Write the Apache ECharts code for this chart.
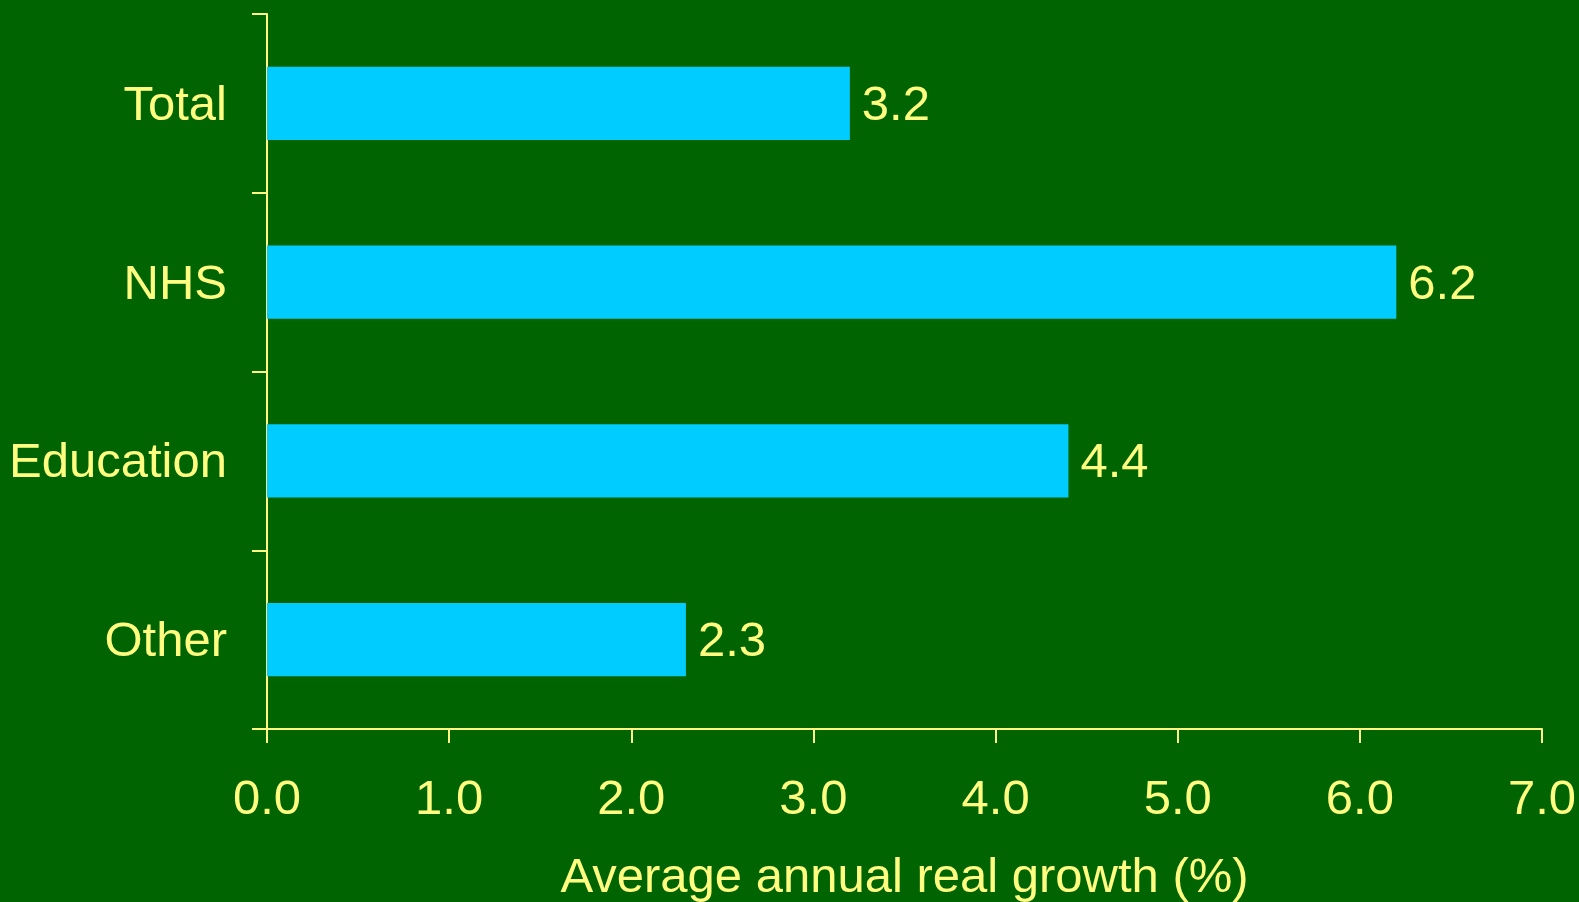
<!DOCTYPE html>
<html><head><meta charset="utf-8">
<script src="https://cdn.jsdelivr.net/npm/echarts@6/dist/echarts.min.js"></script>
<style>html,body{margin:0;padding:0;background:#006400;}#c{width:1579px;height:902px;}</style>
</head><body><div id="c"></div>
<script>
var categories = ['Total', 'NHS', 'Education', 'Other'];
var values = [3.2, 6.2, 4.4, 2.3];
var xTicks = [0, 1, 2, 3, 4, 5, 6, 7];
var xTitle = 'Average annual real growth (%)';

var yellow = '#FFFF80';
var font = 'Liberation Sans, Arial, sans-serif';
var fs = 49;
var chart = echarts.init(document.getElementById('c'));
chart.setOption({
  backgroundColor: '#006400',
  animation: false,
  grid: {left: 267, right: 37, top: 14, bottom: 173, containLabel: false, outerBoundsMode: 'none'},
  xAxis: {
    type: 'value', min: xTicks[0], max: xTicks[xTicks.length - 1], interval: 1,
    name: xTitle, nameLocation: 'middle', nameGap: 125,
    nameTextStyle: {color: yellow, fontSize: fs, fontFamily: font},
    axisLine: {show: true, lineStyle: {color: yellow, width: 2}},
    axisTick: {show: true, length: 14, lineStyle: {color: yellow, width: 2}},
    splitLine: {show: false},
    axisLabel: {color: yellow, fontSize: fs, fontFamily: font, margin: 47,
      formatter: function (v) { return v.toFixed(1); }}
  },
  yAxis: {
    type: 'category', data: categories, inverse: true,
    axisLine: {show: true, lineStyle: {color: yellow, width: 2}},
    axisTick: {show: true, length: 15, lineStyle: {color: yellow, width: 2}},
    axisLabel: {color: yellow, fontSize: fs, fontFamily: font, margin: 40,
      formatter: function (v) { return '{a|' + v + '}'; },
      rich: {a: {color: yellow, fontSize: fs, fontFamily: font, padding: [6, 0, 0, 0]}}}
  },
  series: [{
    type: 'bar', data: values, barWidth: '41%',
    itemStyle: {color: '#00CCFF'},
    label: {show: true, position: 'right', distance: 12, offset: [0, 3], color: yellow, fontSize: fs, fontFamily: font,
      formatter: function (p) { return p.value.toFixed(1); }}
  }]
});
</script></body></html>
